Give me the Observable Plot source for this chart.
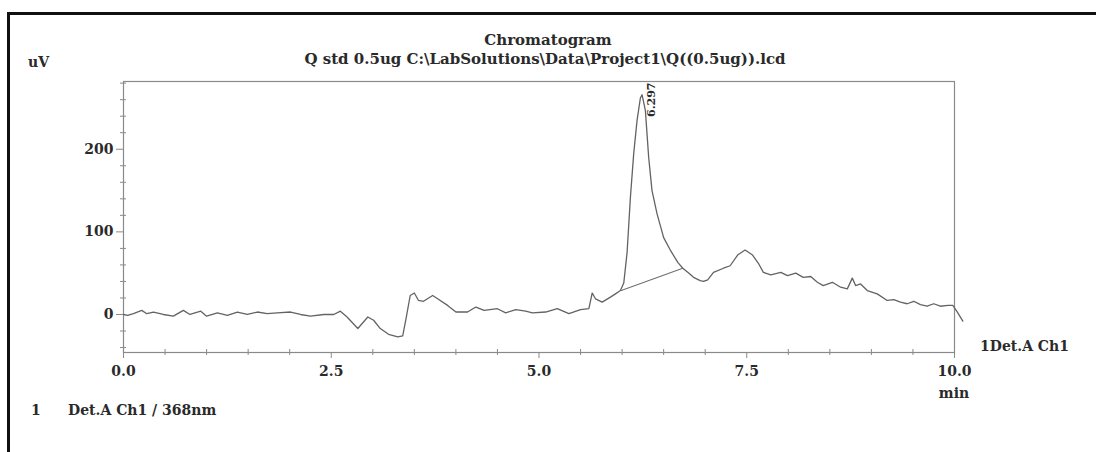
<!DOCTYPE html>
<html>
<head>
<meta charset="utf-8">
<script src="https://cdn.jsdelivr.net/npm/d3@7"></script>
<script src="https://cdn.jsdelivr.net/npm/@observablehq/plot@0.6"></script>
<style>
  body { margin: 0; background: #fff; }
  #wrap { position: relative; width: 1096px; height: 452px; overflow: hidden; background: #fff;
          font-family: "DejaVu Serif", serif; font-weight: bold; color: #2a2a2a; }
  #border { position: absolute; left: 7px; top: 12px; right: -10px; bottom: -10px;
            border-top: 3px solid #111; border-left: 3px solid #111; }
  #chart { position: absolute; left: 0; top: 0; }
  .t { position: absolute; white-space: pre; line-height: 1; }
</style>
</head>
<body>
<div id="wrap">
  <div id="border"></div>
  <div id="chart"></div>
  <div class="t" id="title" style="left:0;width:1096px;text-align:center;top:33px;font-size:15px;">Chromatogram</div>
  <div class="t" id="subtitle" style="left:0;width:1090px;text-align:center;top:52px;font-size:15px;">Q std 0.5ug C:\LabSolutions\Data\Project1\Q((0.5ug)).lcd</div>
  <div class="t" style="left:28px;top:55px;font-size:14px;">uV</div>
  <div class="t" style="left:934px;top:386px;width:40px;text-align:center;font-size:14px;">min</div>
  <div class="t" style="left:980px;top:339px;font-size:14px;">1Det.A Ch1</div>
  <div class="t" style="left:31px;top:403px;font-size:14px;">1</div>
  <div class="t" style="left:68px;top:403px;font-size:14px;">Det.A Ch1 / 368nm</div>
</div>
<script>
// Retention time (min) and detector signal (uV)
const timeMin = [
  0.00, 0.05, 0.12, 0.22, 0.28, 0.36, 0.48, 0.60, 0.72, 0.80, 0.93, 1.00, 1.13, 1.25, 1.37,
  1.49, 1.61, 1.73, 1.85, 2.01, 2.13, 2.25, 2.41, 2.53, 2.61, 2.69, 2.82, 2.94, 3.01, 3.09,
  3.19, 3.30, 3.36, 3.40, 3.45, 3.50, 3.55, 3.61, 3.72, 3.78, 3.90, 4.00, 4.14, 4.24, 4.34,
  4.50, 4.60, 4.72, 4.84, 4.92, 5.08, 5.22, 5.36, 5.50, 5.60, 5.64, 5.68, 5.76, 5.86, 5.92,
  5.98, 6.02, 6.06, 6.10, 6.14, 6.18, 6.22, 6.24, 6.28, 6.32, 6.36, 6.42, 6.50, 6.58, 6.67,
  6.73, 6.79, 6.86, 6.94, 6.98, 7.03, 7.10, 7.22, 7.30, 7.39, 7.48, 7.57, 7.64, 7.70, 7.79,
  7.91, 7.99, 8.09, 8.18, 8.27, 8.35, 8.42, 8.53, 8.63, 8.71, 8.77, 8.81, 8.87, 8.95, 9.07,
  9.19, 9.27, 9.35, 9.43, 9.51, 9.59, 9.67, 9.75, 9.83, 9.92, 9.98, 10.04, 10.10
];
const signalUV = [
  0, -1, 1, 5, 1, 3, 0, -2, 5, 0, 4, -2, 2, -1, 3,
  0, 3, 1, 2, 3, 0, -2, 0, 0, 4, -3, -17, -3, -7, -17,
  -24, -27, -26, -5, 23, 26, 17, 16, 23, 19, 11, 3, 3, 9, 5,
  7, 2, 6, 4, 2, 3, 7, 1, 6, 7, 26, 19, 15, 21, 25,
  29, 38, 75, 142, 195, 235, 262, 266, 247, 190, 150, 122, 93, 78, 63,
  56, 51, 45, 41, 40, 42, 51, 56, 59, 72, 78, 72, 62, 51, 48,
  51, 47, 50, 45, 46, 39, 35, 39, 33, 31, 44, 35, 37, 29, 25,
  17, 18, 15, 13, 16, 12, 10, 13, 10, 11, 11, 2, -8
];

// Integration baseline drawn under the peak
const baselineTime = [5.99, 6.73];
const baselineUV = [29, 56];

// Peak annotation
const peakTime = [6.297];
const peakLabel = ["6.297"];

// Axis ticks
const xMajorTicks = [0, 2.5, 5, 7.5, 10];
const xMinorTicks = [0.5, 1, 1.5, 2, 3, 3.5, 4, 4.5, 5.5, 6, 6.5, 7, 8, 8.5, 9, 9.5];
const yMajorTicks = [0, 100, 200];
const yMinorTicks = [-40, -20, 20, 40, 60, 80, 120, 140, 160, 180, 220, 240, 260, 280];

const trace = timeMin.map((t, i) => ({t, v: signalUV[i]}));
const baseline = baselineTime.map((t, i) => ({t, v: baselineUV[i]}));
const peaks = peakTime.map((t, i) => ({t, label: peakLabel[i]}));

const axisColor = "#8a8a8a";
const textColor = "#2a2a2a";
const blank = () => "";

const chart = Plot.plot({
  width: 1096,
  height: 452,
  marginLeft: 123,
  marginRight: 142,
  marginTop: 81,
  marginBottom: 100,
  x: {domain: [0, 10]},
  y: {domain: [-46, 282]},
  style: {fontFamily: "DejaVu Serif", fontWeight: "bold", fontSize: "14px", color: textColor, background: "transparent", overflow: "visible"},
  marks: [
    Plot.frame({stroke: axisColor, strokeWidth: 1.2}),
    Plot.axisX({ticks: xMajorTicks, tickSize: 6, tickPadding: 8, tickFormat: d => d.toFixed(1), stroke: axisColor, fill: textColor, label: null}),
    Plot.axisX({ticks: xMinorTicks, tickSize: 3, tickFormat: blank, stroke: axisColor, label: null}),
    Plot.axisX({ticks: xMinorTicks, tickSize: 3, dy: -3, tickFormat: blank, stroke: axisColor, label: null}),
    Plot.axisY({ticks: yMajorTicks, tickSize: 7, tickPadding: 3, tickFormat: d => String(d), stroke: axisColor, fill: textColor, label: null}),
    Plot.axisY({ticks: yMinorTicks, tickSize: 3, tickFormat: blank, stroke: axisColor, label: null}),
    Plot.axisY({ticks: yMinorTicks, tickSize: 3, dx: 3, tickFormat: blank, stroke: axisColor, label: null}),
    Plot.line(baseline, {x: "t", y: "v", stroke: "#707070", strokeWidth: 1.1}),
    Plot.line(trace, {x: "t", y: "v", stroke: "#636363", strokeWidth: 1.3, curve: "linear"}),
    Plot.text(peaks, {x: "t", text: "label", frameAnchor: "top", rotate: -90, textAnchor: "end", dx: 0, dy: 1, fontSize: 11, fontWeight: "bold", fill: textColor})
  ]
});
document.getElementById("chart").appendChild(chart);
</script>
</body>
</html>
